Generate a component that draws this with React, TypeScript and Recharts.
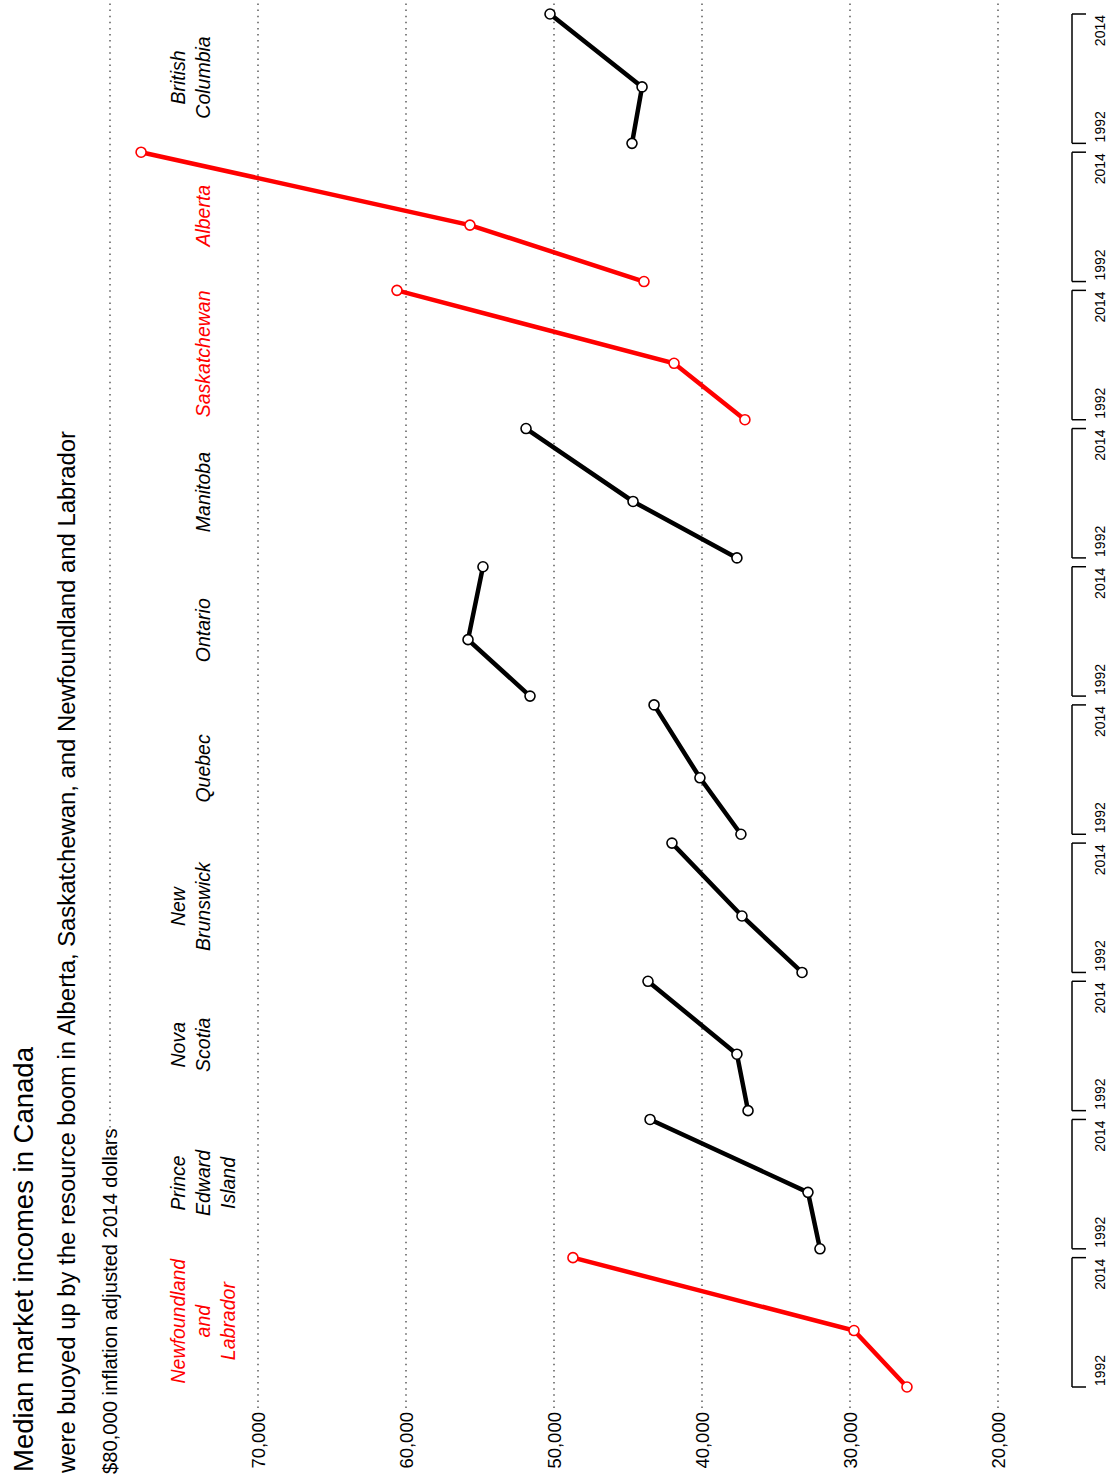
import React from 'react';
import { LineChart, Line, XAxis, YAxis, ReferenceLine } from 'recharts';

// ---------- data ----------
const PROVINCE_LABELS: string[][] = [
  ['Newfoundland', 'and', 'Labrador'],
  ['Prince', 'Edward', 'Island'],
  ['Nova', 'Scotia'],
  ['New', 'Brunswick'],
  ['Quebec'],
  ['Ontario'],
  ['Manitoba'],
  ['Saskatchewan'],
  ['Alberta'],
  ['British', 'Columbia'],
];
const HIGHLIGHTED = [true, false, false, false, false, false, false, true, true, false];
const YEARS = [1992, 2001.6, 2014];
const INCOME_1992 = [26150, 32030, 36890, 33240, 37370, 51620, 37640, 37100, 43920, 44730];
const INCOME_MID = [29730, 32840, 37640, 37300, 40140, 55810, 44660, 41890, 55680, 44050];
const INCOME_2014 = [48720, 43510, 43650, 42030, 43240, 54800, 51890, 60610, 77900, 50270];
const Y_TICKS = [20000, 30000, 40000, 50000, 60000, 70000, 80000];
const YEAR_TICK_LABELS = ['1992', '2014'];

// ---------- layout ----------
const W = 1484;
const H = 1107;
const PANEL_STEP = 23.5; // years between panel starts
const PANEL_SPAN = 22;
const PX_PER_YEAR = 1373 / (9 * PANEL_STEP + PANEL_SPAN);
const X_DOMAIN: [number, number] = [-21 / PX_PER_YEAR, 1387 / PX_PER_YEAR];
const Y_DOMAIN: [number, number] = [15000, 85000];
const FONT = '"Liberation Sans", Arial, Helvetica, sans-serif';
const RED = '#FF0000';

const xOf = (i: number, year: number) => i * PANEL_STEP + (year - YEARS[0]);

const series = PROVINCE_LABELS.map((_, i) => {
  const vals = [INCOME_1992[i], INCOME_MID[i], INCOME_2014[i]];
  return YEARS.map((yr, k) => ({ x: xOf(i, yr), v: vals[k] }));
});

const yearTicks: number[] = [];
PROVINCE_LABELS.forEach((_, i) => {
  yearTicks.push(xOf(i, 1992));
  yearTicks.push(xOf(i, 2014));
});
const labelTicks = PROVINCE_LABELS.map((_, i) => xOf(i, 1992) + 11.2);

const YearTick = (props: any) => {
  const { x, y, index } = props;
  const isStart = index % 2 === 0;
  return (
    <text
      x={isStart ? x + 1 : x - 1}
      y={y + 17}
      textAnchor={isStart ? 'start' : 'end'}
      fontSize={14}
      fontFamily={FONT}
      fill="#000"
    >
      {YEAR_TICK_LABELS[isStart ? 0 : 1]}
    </text>
  );
};

const ProvinceTick = (props: any) => {
  const { x, y, index } = props;
  const lines = PROVINCE_LABELS[index];
  const color = HIGHLIGHTED[index] ? RED : '#000';
  const startSlot = lines.length === 1 ? 1 : 0;
  return (
    <text
      textAnchor="middle"
      fontSize={19.5}
      fontStyle="italic"
      fontFamily={FONT}
      fill={color}
    >
      {lines.map((l, k) => (
        <tspan key={k} x={x} y={y + 149 + (startSlot + k) * 25}>
          {l}
        </tspan>
      ))}
    </text>
  );
};

export default function App() {
  return (
    <div
      style={{
        position: 'absolute',
        left: 0,
        top: 0,
        width: H,
        height: W,
        overflow: 'hidden',
        background: '#fff',
      }}
    >
      <div
        style={{
          position: 'absolute',
          left: 0,
          top: 0,
          width: W,
          height: H,
          transformOrigin: '0 0',
          transform: `translateY(${W}px) rotate(-90deg)`,
          background: '#fff',
          fontFamily: FONT,
        }}
      >
        <LineChart width={W} height={H} margin={{ top: 0, right: 0, bottom: 0, left: 0 }}>
          <XAxis
            xAxisId={0}
            dataKey="x"
            type="number"
            domain={X_DOMAIN}
            allowDataOverflow
            ticks={yearTicks}
            interval={0}
            height={35}
            tickSize={14}
            tickMargin={2}
            axisLine={false}
            tickLine={{ stroke: '#000', strokeWidth: 1.5 }}
            tick={(p: any) => <YearTick {...p} />}
          />
          <XAxis
            xAxisId="top"
            orientation="top"
            dataKey="x"
            type="number"
            domain={X_DOMAIN}
            allowDataOverflow
            ticks={labelTicks}
            interval={0}
            height={36}
            tickSize={0}
            tickMargin={0}
            axisLine={false}
            tickLine={false}
            tick={(p: any) => <ProvinceTick {...p} />}
          />
          <YAxis
            type="number"
            domain={Y_DOMAIN}
            allowDataOverflow
            ticks={Y_TICKS}
            interval={0}
            width={76}
            tickSize={0}
            tickMargin={4}
            axisLine={false}
            tickLine={false}
            tick={{ fontSize: 18.5, fill: '#000', fontFamily: FONT }}
            tickFormatter={(v: number) => (v === 80000 ? '' : v.toLocaleString('en-US'))}
          />
          {Y_TICKS.map((t) => (
            <ReferenceLine
              key={'g' + t}
              y={t}
              stroke="#333"
              strokeWidth={1.2}
              strokeDasharray="1.5 4.6"
            />
          ))}
          {PROVINCE_LABELS.map((_, i) => (
            <ReferenceLine
              key={'br' + i}
              segment={[
                { x: xOf(i, 1992), y: Y_DOMAIN[0] },
                { x: xOf(i, 2014), y: Y_DOMAIN[0] },
              ]}
              stroke="#000"
              strokeWidth={1.5}
              ifOverflow="visible"
            />
          ))}
          {series.map((d, i) => {
            const color = HIGHLIGHTED[i] ? RED : '#000';
            return (
              <Line
                key={'l' + i}
                data={d}
                dataKey="v"
                type="linear"
                stroke={color}
                strokeWidth={4.5}
                dot={{ r: 5, fill: '#fff', stroke: color, strokeWidth: 1.6 }}
                activeDot={false}
                isAnimationActive={false}
              />
            );
          })}
        </LineChart>
        <svg
          width={W}
          height={H}
          style={{ position: 'absolute', left: 0, top: 0, pointerEvents: 'none' }}
        >
          <text x={12} y={33} fontSize={27.5} fontFamily={FONT} fill="#000">
            Median market incomes in Canada
          </text>
          <text x={11} y={75} fontSize={23.85} fontFamily={FONT} fill="#000">
            were buoyed up by the resource boom in Alberta, Saskatchewan, and Newfoundland and Labrador
          </text>
          <rect x={4} y={98} width={350} height={24} fill="#fff" />
          <text x={10} y={117} fontSize={20.2} fontFamily={FONT} fill="#000">
            $80,000 inflation adjusted 2014 dollars
          </text>
        </svg>
      </div>
    </div>
  );
}
